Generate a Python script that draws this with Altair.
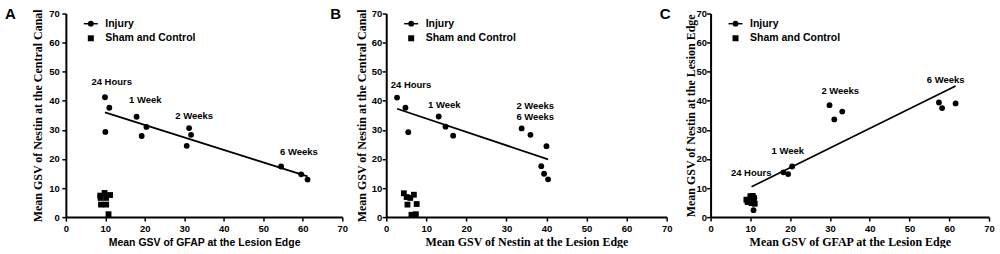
import altair as alt
import pandas as pd

# ---------------- data ----------------
# Panel A: x = Mean GSV of GFAP at the Lesion Edge, y = Mean GSV of Nestin at the Central Canal
a_inj_x = [9.9, 11.0, 10.0, 17.9, 20.4, 19.2, 31.2, 31.7, 30.6, 54.5, 59.6, 61.2]
a_inj_y = [41.2, 37.6, 29.3, 34.5, 31.0, 27.9, 30.6, 28.3, 24.5, 17.4, 14.7, 12.9]
a_sham_x = [8.7, 9.8, 11.2, 10.2, 8.8, 8.9, 10.2, 10.8]
a_sham_y = [7.4, 8.3, 7.6, 6.6, 6.6, 4.3, 4.3, 1.0]
a_ann_text = ["24 Hours", "1 Week", "2 Weeks", "6 Weeks"]
a_ann_x = [11.6, 20.1, 32.5, 59.0]
a_ann_y = [46.3, 40.1, 34.8, 22.5]

# Panel B: x = Mean GSV of Nestin at the Lesion Edge, y = Mean GSV of Nestin at the Central Canal
b_inj_x = [2.7, 4.8, 5.5, 13.1, 14.8, 16.7, 33.8, 36.0, 40.0, 38.7, 39.4, 40.4]
b_inj_y = [41.1, 37.6, 29.2, 34.6, 31.1, 28.0, 30.5, 28.3, 24.4, 17.5, 14.9, 13.0]
b_sham_x = [4.4, 5.1, 6.0, 6.9, 5.3, 7.6, 6.3, 7.4]
b_sham_y = [8.2, 6.9, 6.6, 7.7, 4.3, 4.5, 0.8, 1.0]
b_ann_text = ["24 Hours", "1 Week", "2 Weeks", "6 Weeks"]
b_ann_x = [6.2, 14.5, 37.2, 37.2]
b_ann_y = [45.4, 38.6, 38.3, 34.5]

# Panel C: x = Mean GSV of GFAP at the Lesion Edge, y = Mean GSV of Nestin at the Lesion Edge
c_inj_x = [10.8, 10.3, 11.0, 18.3, 19.5, 20.5, 29.9, 31.1, 33.1, 57.4, 58.2, 61.6]
c_inj_y = [2.4, 5.0, 6.5, 15.4, 14.8, 17.4, 38.5, 33.6, 36.3, 39.4, 37.5, 39.1]
c_sham_x = [9.0, 9.3, 10.0, 10.6, 10.9, 11.1, 10.3, 9.8, 10.6]
c_sham_y = [6.0, 5.2, 7.2, 7.3, 6.6, 4.6, 4.8, 5.8, 5.5]
c_ann_text = ["24 Hours", "1 Week", "2 Weeks", "6 Weeks"]
c_ann_x = [10.2, 19.4, 32.6, 59.1]
c_ann_y = [15.1, 22.6, 43.2, 47.3]

groups = ["Injury", "Sham and Control"]
axis_ticks = [0, 10, 20, 30, 40, 50, 60, 70]

SANS = "Liberation Sans"
SERIF = "Liberation Serif"


def legend_layers():
    """Key drawn in the top-left corner of each panel (line+circle, square)."""
    row1, row2 = 10.2, 24.8
    line = alt.Chart(pd.DataFrame({"g": [groups[0]]})).mark_rule(
        color="black", strokeWidth=1.5).encode(
        x=alt.value(18), x2=alt.value(32), y=alt.value(row1))
    circ = alt.Chart(pd.DataFrame({"g": [groups[0]]})).mark_point(
        shape="circle", filled=True, opacity=1, color="black", size=34).encode(
        x=alt.value(25), y=alt.value(row1))
    sq = alt.Chart(pd.DataFrame({"g": [groups[1]]})).mark_point(
        shape="square", filled=True, opacity=1, color="black", size=36).encode(
        x=alt.value(25), y=alt.value(row2))
    t1 = alt.Chart(pd.DataFrame({"g": [groups[0]]})).mark_text(
        font=SANS, fontSize=10.5, fontWeight="bold", color="black",
        align="left", baseline="middle").encode(
        x=alt.value(39.5), y=alt.value(row1), text="g:N")
    t2 = alt.Chart(pd.DataFrame({"g": [groups[1]]})).mark_text(
        font=SANS, fontSize=10.5, fontWeight="bold", color="black",
        align="left", baseline="middle").encode(
        x=alt.value(39.5), y=alt.value(row2), text="g:N")
    return [line, circ, sq, t1, t2]


def panel(inj_x, inj_y, sham_x, sham_y, ann_text, ann_x, ann_y, letter,
          xtitle, ytitle, xtitle_font, xtitle_size, width,
          ylab_pad, ytitle_x, letter_x):
    df = pd.DataFrame({
        "x": inj_x + sham_x,
        "y": inj_y + sham_y,
        "group": [groups[0]] * len(inj_x) + [groups[1]] * len(sham_x),
    })
    sc = alt.Scale(domain=[0, 70], nice=False, zero=False)
    xaxis = alt.Axis(values=axis_ticks, tickCount=8, title=xtitle, titleFont=xtitle_font,
                     titleFontSize=xtitle_size, titleFontWeight="bold",
                     titleY=28, titleBaseline="alphabetic", labelPadding=2.5,
                     labelOverlap=False, labelFlush=False, labelBound=False)
    yaxis = alt.Axis(values=axis_ticks, tickCount=8, title=ytitle, titleFont=SERIF,
                     titleFontSize=12, titleFontWeight="bold",
                     titleX=ytitle_x, titleBaseline="middle",
                     labelPadding=ylab_pad, labelOverlap=False, labelFlush=False,
                     labelBound=False)
    xenc = alt.X("x:Q", scale=sc, axis=xaxis)
    yenc = alt.Y("y:Q", scale=sc, axis=yaxis)
    pts = alt.Chart(df).mark_point(filled=True, opacity=1, color="black", size=34).encode(
        x=xenc, y=yenc,
        shape=alt.Shape("group:N",
                        scale=alt.Scale(domain=groups, range=["circle", "square"]),
                        legend=None),
    )
    reg = alt.Chart(df).transform_filter(alt.datum.group == "Injury").transform_regression(
        "x", "y").mark_line(color="black", strokeWidth=1.7).encode(x=xenc, y=yenc)
    ann_df = pd.DataFrame({"t": ann_text, "x": ann_x, "y": ann_y})
    ann = alt.Chart(ann_df).mark_text(font=SANS, fontSize=9.5, fontWeight="bold",
                                      color="black", align="center", baseline="middle").encode(
        x=xenc, y=yenc, text="t:N")
    let = alt.Chart(pd.DataFrame({"t": [letter]})).mark_text(
        font=SANS, fontSize=15, fontWeight="bold", color="black",
        align="left", baseline="alphabetic").encode(
        x=alt.value(letter_x), y=alt.value(5.5), text="t:N")
    return alt.layer(pts, reg, ann, let, *legend_layers()).properties(width=width, height=204)


pa = panel(a_inj_x, a_inj_y, a_sham_x, a_sham_y, a_ann_text, a_ann_x, a_ann_y, "A",
           "Mean GSV of GFAP at the Lesion Edge", "Mean GSV of Nestin at the Central Canal",
           SANS, 10.5, 277, 2.5, -28.5, -61)
pb = panel(b_inj_x, b_inj_y, b_sham_x, b_sham_y, b_ann_text, b_ann_x, b_ann_y, "B",
           "Mean GSV of Nestin at the Lesion Edge", "Mean GSV of Nestin at the Central Canal",
           SERIF, 12, 281, 0.5, -24.5, -56)
pc = panel(c_inj_x, c_inj_y, c_sham_x, c_sham_y, c_ann_text, c_ann_x, c_ann_y, "C",
           "Mean GSV of GFAP at the Lesion Edge", "Mean GSV of Nestin at the Lesion Edge",
           SERIF, 12, 279, 0.0, -20.5, -51)

chart = alt.hconcat(pa, pb, pc, spacing=44, bounds="flush").properties(
    padding={"left": 5, "top": 6.3, "right": 5, "bottom": 0}
).configure_axis(
    domainColor="black", domainWidth=2, tickColor="black", tickWidth=1.5, tickSize=4,
    labelFont=SANS, labelFontSize=9.5, labelFontWeight="bold", labelColor="black",
    titleColor="black", grid=False, labelAngle=0, labelOverlap=False
).configure_view(stroke=None)

chart.save("out.html", embed_options={"renderer": "svg", "actions": False})
